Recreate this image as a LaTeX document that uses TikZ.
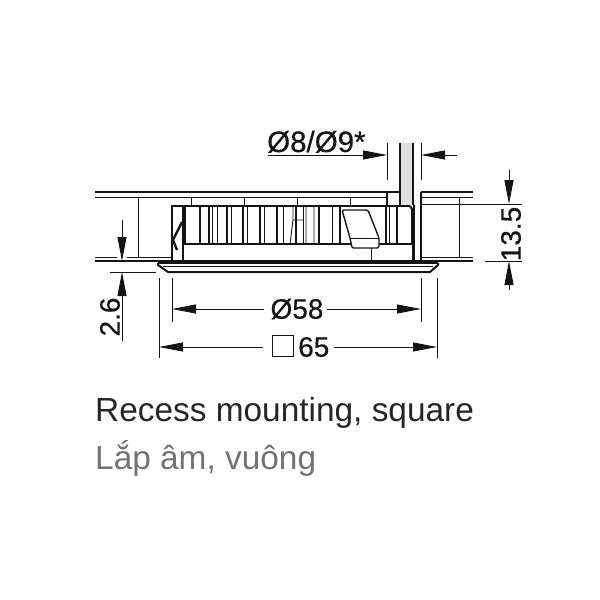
\documentclass[tikz,border=0pt]{standalone}
\usepackage{fontspec}
\setmainfont{Liberation Sans}
\newfontfamily\dimfont[FakeBold=0.5]{Liberation Sans}
\usetikzlibrary{arrows.meta}
\definecolor{inkblack}{gray}{0.08}
\tikzset{
  thinline/.style={draw=inkblack,line width=0.9pt},
  thickline/.style={draw=inkblack,line width=2pt},
  midline/.style={draw=inkblack,line width=1.4pt},
  dimline/.style={draw=inkblack,line width=0.9pt,-{Stealth[length=24pt,width=9pt,inset=0pt]}},
  dimtext/.style={inner sep=0pt,text=inkblack,font=\dimfont\fontsize{28}{28}\selectfont},
  captext/.style={inner sep=0pt,anchor=base west,font=\fontsize{33.4}{33.4}\selectfont}
}
\begin{document}
\begin{tikzpicture}[x=1pt,y=-1pt]
  \useasboundingbox (0,0) rectangle (600,600);
  % ceiling panel
  \draw[thickline] (95,192) -- (400,192) (421,192) -- (473,192);
  \draw[thinline] (95,197) -- (386,197) (421,197) -- (473,197);
  \draw[thickline] (95,261) -- (172,261) (421,261) -- (473,261);
  \draw[thinline] (95,257) -- (117,257) (127,257) -- (172,257) (421,257) -- (473,257);
  \draw[thinline] (138,197) -- (138,257) (459,197) -- (459,257);
  \foreach \tickx in {191,244,297,350}
    \draw[thinline] (\tickx,197) -- (\tickx,205);
  % housing
  \draw[thickline] (172,261) -- (172,206) -- (410,206);
  \draw[thickline] (183,206) -- (183,261);
  \draw[thickline] (183,244) -- (412,244);
  \draw[thickline] (172,261) -- (421,261);
  \draw[midline] (387,192) -- (387,205);
  \draw[thickline] (410,206) -- (412,209) -- (412,244);
  \draw[thickline] (414,205) -- (414,233);
  \draw[thinline] (412,233) -- (412,261);
  \draw[midline] (421,192) -- (421,261);
  \draw[midline] (414,233) -- (414,261);
  % heat sink ribs
  \foreach \ribx in {185,200,209,227,243,260,277,296,319,340,386,397}
    \draw[midline] (\ribx,206) -- (\ribx,244);
  \foreach \ribx in {212,217,231,247,264,283,303,332,389}
    \draw[thinline] (\ribx,206) -- (\ribx,244);
  \draw[thinline] (290,244) -- (293,220) -- (293,206) (293,220) -- (303,220) (306,244) -- (306,206) (314,244) -- (314,206);
  % spring
  \draw[line width=2.4pt,draw=inkblack] (182,222) -- (173,240) -- (177,250);
  % clip
  \draw[midline,fill=white,rounded corners=1.5pt] (342,210) -- (368,210) -- (379,238) -- (379,248) -- (352,248) -- (350,238) -- cycle;
  \draw[thinline] (351,238) -- (379,238);
  \draw[thinline] (371,248) -- (371,261);
  % cable
  \fill[gray!25] (401,143) rectangle (412,205);
  \draw[midline] (400,143) -- (400,205) (413,143) -- (413,205);
  % flange
  \draw[thickline] (158,263) -- (158,265) -- (168,272) -- (430,272) -- (438,265) -- (438,263);
  \draw[midline] (158,263) -- (438,263);
  \draw[thinline] (163,266) -- (433,266);
  % top dimension
  \coordinate (cableleft) at (387,155);
  \coordinate (cableright) at (421,155);
  \coordinate (cabletail) at (268,155);
  \coordinate (cabletailb) at (457,155);
  \draw[thinline] (387,143) -- (387,180) (421,143) -- (421,180);
  \draw[dimline] (cabletail) -- (cableleft);
  \draw[dimline] (cabletailb) -- (cableright);
  \node[dimtext,anchor=base west,font=\dimfont\fontsize{29.5}{29.5}\selectfont] (cablelabel) at (267,152) {Ø8/Ø9*};
  % height dimension
  \draw[thinline] (421,204) -- (522,204) (485,261) -- (522,261);
  \coordinate (hgttop) at (509,204);
  \coordinate (hgtbot) at (509,261);
  \draw[dimline] (509,170) -- (hgttop);
  \draw[dimline] (509,290) -- (hgtbot);
  \node[dimtext,rotate=90] (hgtlabel) at (511,234) {13.5};
  % flange thickness
  \draw[thinline] (110,272) -- (156,272);
  \coordinate (flgtop) at (122,261);
  \coordinate (flgbot) at (122,272);
  \draw[dimline] (122,220) -- (flgtop);
  \draw[dimline] (122,341) -- (flgbot);
  \node[dimtext,rotate=90] (flglabel) at (110,317) {2.6};
  % widths
  \draw[thinline] (172,278) -- (172,322) (421,278) -- (421,322);
  \draw[thinline] (159,278) -- (159,358) (437,278) -- (437,358);
  \node[dimtext] (innerlabel) at (297,309) {Ø58};
  \coordinate (innerleft) at (172,309);
  \coordinate (innerright) at (421,309);
  \draw[dimline] (innerlabel.west) ++(-6,0) -- (innerleft);
  \draw[dimline] (innerlabel.east) ++(3,0) -- (innerright);
  \node[draw=inkblack,line width=1pt,minimum size=21pt,inner sep=0pt] (sqmark) at (283,346) {};
  \node[dimtext,anchor=west] (outerlabel) at (298,347) {65};
  \coordinate (outerleft) at (159,347);
  \coordinate (outerright) at (437,347);
  \draw[dimline] (263,347) -- (outerleft);
  \draw[dimline] (334,347) -- (outerright);
  % captions
  \node[captext,text=black!85] (capen) at (95,421) {Recess mounting, square};
  \node[captext,text=black!55] (capvi) at (95,469) {Lắp âm, vuông};
\end{tikzpicture}
\end{document}
